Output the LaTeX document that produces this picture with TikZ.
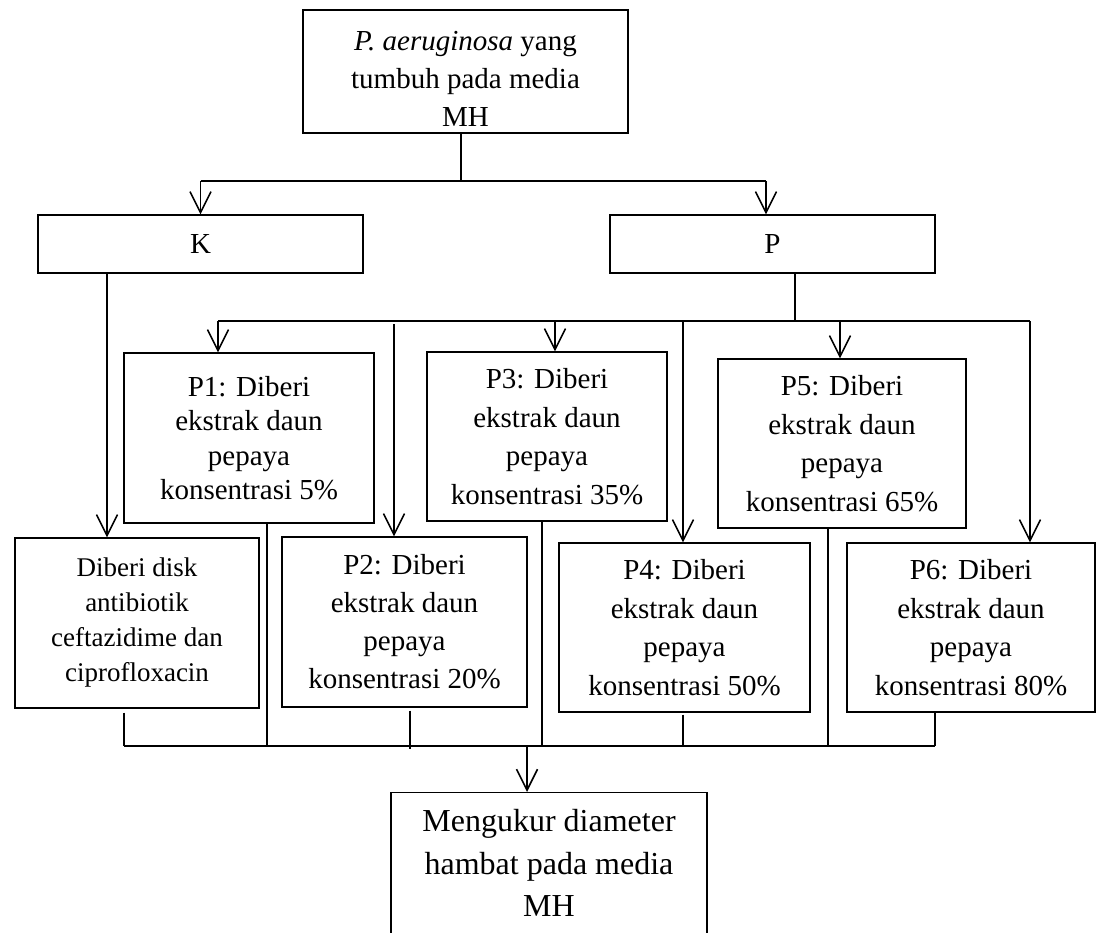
\documentclass[tikz,border=0pt]{standalone}
\usepackage{fontspec}
\setmainfont{Liberation Serif}
\usetikzlibrary{arrows.meta}
\begin{document}
\begin{tikzpicture}[x=1pt,y=-1pt,
  box/.style={draw,line width=1.2pt,inner sep=0pt,align=center,
    font=\fontsize{29}{38.5}\selectfont},
  conn/.style={line width=1.3pt},
  bus/.style={line width=2.4pt},
  arr/.style={line width=1.5pt,-{Straight Barb[length=21pt,width=21pt,line width=1.6pt]}}]
\clip (0,0) rectangle (1097,933);
\fill[white] (0,0) rectangle (1097,933);
% boxes
\node[box,minimum width=325pt,minimum height=123pt,
  label={[yshift=-7pt,align=center,font=\fontsize{29}{38}\selectfont]center:\textit{P. aeruginosa} yang\\tumbuh pada media\\MH}] (top) at (465.5,71.5) {};
\node[box,minimum width=325pt,minimum height=58pt] (K) at (200.5,244) {K};
\node[box,minimum width=325pt,minimum height=58pt] (P) at (772.5,244) {P};
\node[box,minimum width=250pt,minimum height=170pt,font=\fontsize{29}{34.5}\selectfont] (p1) at (249,438) {P1: Diberi\\ekstrak daun\\pepaya\\konsentrasi 5\%};
\node[box,minimum width=240pt,minimum height=169pt] (p3) at (547,436.5) {P3: Diberi\\ekstrak daun\\pepaya\\konsentrasi 35\%};
\node[box,minimum width=248pt,minimum height=169pt] (p5) at (842,443.5) {P5: Diberi\\ekstrak daun\\pepaya\\konsentrasi 65\%};
\node[box,minimum width=244pt,minimum height=170pt,font=\fontsize{27}{35}\selectfont] (disk) at (137,623) {Diberi disk\\antibiotik\\ceftazidime dan\\ciprofloxacin};
\node[box,minimum width=245pt,minimum height=170pt,font=\fontsize{29}{38}\selectfont] (p2) at (404.5,622) {P2: Diberi\\ekstrak daun\\pepaya\\konsentrasi 20\%};
\node[box,minimum width=251pt,minimum height=169pt] (p4) at (684.5,627.5) {P4: Diberi\\ekstrak daun\\pepaya\\konsentrasi 50\%};
\node[box,minimum width=248pt,minimum height=169pt] (p6) at (971,627.5) {P6: Diberi\\ekstrak daun\\pepaya\\konsentrasi 80\%};
\node[box,minimum width=316pt,minimum height=180pt,anchor=north,
  label={[anchor=north,yshift=-14pt,align=center,font=\fontsize{32}{42.5}\selectfont]north:Mengukur diameter\\hambat pada media\\MH}] (res) at (549,792) {};
% anchor coordinates
\coordinate (ts) at ([xshift=-4.5pt]top.south);
\coordinate (kn) at (K.north);
\coordinate (pn) at ([xshift=-6.5pt]P.north);
\coordinate (ks) at ([xshift=-93.5pt]K.south);
\coordinate (dn) at ([xshift=-30pt]disk.north);
\coordinate (ps) at ([xshift=22.5pt]P.south);
\coordinate (p1n) at ([xshift=-31pt]p1.north);
\coordinate (p2n) at ([xshift=-10.5pt]p2.north);
\coordinate (p3n) at ([xshift=8pt]p3.north);
\coordinate (p4n) at ([xshift=-1.5pt]p4.north);
\coordinate (p5n) at ([xshift=-2pt]p5.north);
\coordinate (p6n) at ([xshift=59pt]p6.north);
\coordinate (ds) at ([xshift=-13pt,yshift=-4pt]disk.south);
\coordinate (p1s) at ([xshift=18pt]p1.south);
\coordinate (p2s) at ([xshift=5.5pt,yshift=-3pt]p2.south);
\coordinate (p3s) at ([xshift=-5pt]p3.south);
\coordinate (p4s) at ([xshift=-1.5pt,yshift=-2pt]p4.south);
\coordinate (p5s) at ([xshift=-14pt]p5.south);
\coordinate (p6s) at ([xshift=-36pt]p6.south);
\coordinate (rn) at ([xshift=-22pt]res.north);
\coordinate (j1) at (0,181);
\coordinate (j2) at (0,321);
\coordinate (j3) at (0,746);
% top split
\draw[conn] (ts) -- (ts |- j1);
\draw[bus] (kn |- j1) -- (pn |- j1);
\draw[arr] (kn |- j1) -- (kn);
\draw[arr] (pn |- j1) -- (pn);
% K branch
\draw[arr] (ks) -- (dn);
% P branch
\draw[conn] (ps) -- (ps |- j2);
\draw[bus] (p1n |- j2) -- (p6n |- j2);
\draw[arr] (p1n |- j2) -- (p1n);
\draw[arr] ([yshift=-3pt]p2n |- j2) -- (p2n);
\draw[arr] (p3n |- j2) -- (p3n);
\draw[arr] (p4n |- j2) -- (p4n);
\draw[arr] (p5n |- j2) -- (p5n);
\draw[arr] (p6n |- j2) -- (p6n);
% collect
\draw[conn] (ds) -- (ds |- j3);
\draw[conn] (p1s) -- (p1s |- j3);
\draw[conn] (p2s) -- ([yshift=-3pt]p2s |- j3);
\draw[conn] (p3s) -- (p3s |- j3);
\draw[conn] (p4s) -- (p4s |- j3);
\draw[conn] (p5s) -- (p5s |- j3);
\draw[conn] (p6s) -- (p6s |- j3);
\draw[bus] (ds |- j3) -- (p6s |- j3);
\draw[arr] (rn |- j3) -- (rn);
\end{tikzpicture}
\end{document}
